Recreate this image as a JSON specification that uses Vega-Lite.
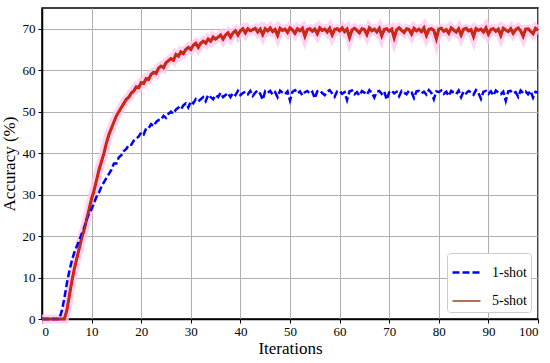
{
  "$schema": "https://vega.github.io/schema/vega-lite/v6.json",
  "width": 496,
  "height": 311,
  "autosize": "none",
  "padding": {"left": 42, "top": 8, "right": 12, "bottom": 44},
  "background": "white",
  "config": {
    "font": "Liberation Serif",
    "view": {"stroke": "black", "strokeWidth": 1.5},
    "axis": {
      "labelColor": "black", "titleColor": "black", "titleFontWeight": "normal",
      "tickColor": "black", "domainColor": "black", "domainWidth": 1.5, "tickSize": 4,
      "gridColor": "#b0b0b0", "gridWidth": 1, "gridOpacity": 1
    },
    "legend": {"labelColor": "black"}
  },
  "data": {"values": [
    {"i":0,"1-shot":0,"5-shot":0},{"i":0.5,"1-shot":0,"5-shot":0},{"i":1,"1-shot":0,"5-shot":0},{"i":1.5,"1-shot":0,"5-shot":0},
    {"i":2,"1-shot":0,"5-shot":0},{"i":2.5,"1-shot":0,"5-shot":0},{"i":3,"1-shot":0,"5-shot":0},{"i":3.5,"1-shot":0,"5-shot":0},
    {"i":4,"1-shot":2,"5-shot":0},{"i":4.5,"1-shot":5,"5-shot":0},{"i":5,"1-shot":8.5,"5-shot":2},{"i":5.5,"1-shot":11.5,"5-shot":5.5},
    {"i":6,"1-shot":14,"5-shot":9},{"i":6.5,"1-shot":16,"5-shot":12},{"i":7,"1-shot":17.5,"5-shot":14.5},{"i":7.5,"1-shot":19,"5-shot":17},
    {"i":8,"1-shot":20.5,"5-shot":19.5},{"i":8.5,"1-shot":22,"5-shot":21.5},{"i":9,"1-shot":24,"5-shot":24},{"i":9.5,"1-shot":25.5,"5-shot":26.5},
    {"i":10,"1-shot":26.5,"5-shot":29},{"i":10.5,"1-shot":28,"5-shot":31},{"i":11,"1-shot":29.5,"5-shot":33.5},{"i":11.5,"1-shot":30.5,"5-shot":36},
    {"i":12,"1-shot":32,"5-shot":38},{"i":12.5,"1-shot":33,"5-shot":40},{"i":13,"1-shot":34,"5-shot":42.5},{"i":13.5,"1-shot":35,"5-shot":44.5},
    {"i":14,"1-shot":36,"5-shot":46},{"i":14.5,"1-shot":37.5,"5-shot":47.5},{"i":15,"1-shot":37.5,"5-shot":49},{"i":15.5,"1-shot":39,"5-shot":50},
    {"i":16,"1-shot":39.5,"5-shot":51},{"i":16.5,"1-shot":40.5,"5-shot":52},{"i":17,"1-shot":41,"5-shot":53},{"i":17.5,"1-shot":42,"5-shot":53.5},
    {"i":18,"1-shot":42,"5-shot":54.5},{"i":18.5,"1-shot":43,"5-shot":55},{"i":19,"1-shot":43.5,"5-shot":56},{"i":19.5,"1-shot":44,"5-shot":55.8},
    {"i":20,"1-shot":45,"5-shot":57},{"i":20.5,"1-shot":44.5,"5-shot":56.8},{"i":21,"1-shot":46,"5-shot":58},{"i":21.5,"1-shot":46,"5-shot":57.8},
    {"i":22,"1-shot":47,"5-shot":59},{"i":22.5,"1-shot":46.5,"5-shot":59.5},{"i":23,"1-shot":47.5,"5-shot":59.2},{"i":23.5,"1-shot":48,"5-shot":60.5},
    {"i":24,"1-shot":48,"5-shot":61},{"i":24.5,"1-shot":49,"5-shot":60.6},{"i":25,"1-shot":48.5,"5-shot":61.8},{"i":25.5,"1-shot":49.5,"5-shot":62.3},
    {"i":26,"1-shot":50,"5-shot":62.8},{"i":26.5,"1-shot":49.5,"5-shot":62.4},{"i":27,"1-shot":50.5,"5-shot":63.8},{"i":27.5,"1-shot":51,"5-shot":63.4},
    {"i":28,"1-shot":50.5,"5-shot":64.4},{"i":28.5,"1-shot":51.5,"5-shot":64},{"i":29,"1-shot":52,"5-shot":65},{"i":29.5,"1-shot":51,"5-shot":65.5},
    {"i":30,"1-shot":52.5,"5-shot":65},{"i":30.5,"1-shot":52,"5-shot":66},{"i":31,"1-shot":53,"5-shot":66.5},{"i":31.5,"1-shot":52.5,"5-shot":65.5},
    {"i":32,"1-shot":53,"5-shot":66.5},{"i":32.5,"1-shot":53.5,"5-shot":67},{"i":33,"1-shot":52.5,"5-shot":66.5},{"i":33.5,"1-shot":54,"5-shot":67.5},
    {"i":34,"1-shot":53.5,"5-shot":67},{"i":34.5,"1-shot":53,"5-shot":68},{"i":35,"1-shot":54,"5-shot":67.5},{"i":35.5,"1-shot":53.5,"5-shot":68},
    {"i":36,"1-shot":54.5,"5-shot":68.5},{"i":36.5,"1-shot":53.5,"5-shot":67.5},{"i":37,"1-shot":54,"5-shot":68.5},{"i":37.5,"1-shot":54.5,"5-shot":69},
    {"i":38,"1-shot":53.5,"5-shot":68},{"i":38.5,"1-shot":54.5,"5-shot":69},{"i":39,"1-shot":54,"5-shot":69.5},{"i":39.5,"1-shot":55,"5-shot":68.5},
    {"i":40,"1-shot":54,"5-shot":69.5},{"i":40.5,"1-shot":54.5,"5-shot":70},{"i":41,"1-shot":54.8,"5-shot":69},{"i":41.5,"1-shot":54.2,"5-shot":70},
    {"i":42,"1-shot":55.0,"5-shot":69.5},{"i":42.5,"1-shot":53.8,"5-shot":69.8},{"i":43,"1-shot":54.6,"5-shot":70.1},{"i":43.5,"1-shot":55.1,"5-shot":69.2},
    {"i":44,"1-shot":54.3,"5-shot":69.9},{"i":44.5,"1-shot":52.9,"5-shot":68.6},{"i":45,"1-shot":54.9,"5-shot":70.0},{"i":45.5,"1-shot":54.5,"5-shot":69.5},
    {"i":46,"1-shot":55.0,"5-shot":70.2},{"i":46.5,"1-shot":54.1,"5-shot":69.3},{"i":47,"1-shot":54.7,"5-shot":69.8},{"i":47.5,"1-shot":53.5,"5-shot":68.4},
    {"i":48,"1-shot":55.1,"5-shot":70.1},{"i":48.5,"1-shot":54.6,"5-shot":69.6},{"i":49,"1-shot":54.2,"5-shot":69.9},{"i":49.5,"1-shot":54.9,"5-shot":69.1},
    {"i":50,"1-shot":52.7,"5-shot":70.2},{"i":50.5,"1-shot":54.8,"5-shot":69.7},{"i":51,"1-shot":55.2,"5-shot":68.9},{"i":51.5,"1-shot":54.4,"5-shot":70.0},
    {"i":52,"1-shot":54.9,"5-shot":69.5},{"i":52.5,"1-shot":53.9,"5-shot":70.1},{"i":53,"1-shot":54.7,"5-shot":68.2},{"i":53.5,"1-shot":55.0,"5-shot":69.8},
    {"i":54,"1-shot":54.3,"5-shot":70.0},{"i":54.5,"1-shot":54.8,"5-shot":69.4},{"i":55,"1-shot":53.2,"5-shot":69.9},{"i":55.5,"1-shot":54.9,"5-shot":68.8},
    {"i":56,"1-shot":55.1,"5-shot":70.2},{"i":56.5,"1-shot":54.5,"5-shot":69.6},{"i":57,"1-shot":54.0,"5-shot":69.9},{"i":57.5,"1-shot":54.8,"5-shot":69.2},
    {"i":58,"1-shot":55.2,"5-shot":70.1},{"i":58.5,"1-shot":54.4,"5-shot":68.5},{"i":59,"1-shot":53.6,"5-shot":69.8},{"i":59.5,"1-shot":54.9,"5-shot":70.0},
    {"i":60,"1-shot":55.0,"5-shot":69.5},{"i":60.5,"1-shot":54.3,"5-shot":70.2},{"i":61,"1-shot":54.7,"5-shot":69.3},{"i":61.5,"1-shot":52.8,"5-shot":69.9},
    {"i":62,"1-shot":54.9,"5-shot":67.9},{"i":62.5,"1-shot":55.1,"5-shot":69.7},{"i":63,"1-shot":54.2,"5-shot":70.1},{"i":63.5,"1-shot":54.7,"5-shot":69.6},
    {"i":64,"1-shot":53.9,"5-shot":69.0},{"i":64.5,"1-shot":55.0,"5-shot":70.0},{"i":65,"1-shot":54.6,"5-shot":69.8},{"i":65.5,"1-shot":54.1,"5-shot":68.6},
    {"i":66,"1-shot":55.2,"5-shot":70.2},{"i":66.5,"1-shot":54.5,"5-shot":69.5},{"i":67,"1-shot":53.4,"5-shot":69.9},{"i":67.5,"1-shot":54.8,"5-shot":69.2},
    {"i":68,"1-shot":55.0,"5-shot":70.1},{"i":68.5,"1-shot":54.3,"5-shot":68.3},{"i":69,"1-shot":54.9,"5-shot":69.8},{"i":69.5,"1-shot":52.9,"5-shot":70.0},
    {"i":70,"1-shot":54.7,"5-shot":69.4},{"i":70.5,"1-shot":55.1,"5-shot":69.9},{"i":71,"1-shot":54.4,"5-shot":67.8},{"i":71.5,"1-shot":54.8,"5-shot":69.7},
    {"i":72,"1-shot":53.7,"5-shot":70.2},{"i":72.5,"1-shot":55.0,"5-shot":69.6},{"i":73,"1-shot":54.6,"5-shot":69.1},{"i":73.5,"1-shot":54.2,"5-shot":70.0},
    {"i":74,"1-shot":55.1,"5-shot":69.8},{"i":74.5,"1-shot":54.7,"5-shot":68.7},{"i":75,"1-shot":53.3,"5-shot":70.1},{"i":75.5,"1-shot":54.9,"5-shot":69.5},
    {"i":76,"1-shot":55.0,"5-shot":69.9},{"i":76.5,"1-shot":54.4,"5-shot":69.3},{"i":77,"1-shot":54.8,"5-shot":70.2},{"i":77.5,"1-shot":54.1,"5-shot":68.4},
    {"i":78,"1-shot":55.2,"5-shot":69.8},{"i":78.5,"1-shot":54.5,"5-shot":70.0},{"i":79,"1-shot":53.0,"5-shot":69.6},{"i":79.5,"1-shot":54.9,"5-shot":67.6},
    {"i":80,"1-shot":54.7,"5-shot":69.9},{"i":80.5,"1-shot":55.1,"5-shot":70.1},{"i":81,"1-shot":54.3,"5-shot":69.4},{"i":81.5,"1-shot":54.8,"5-shot":69.8},
    {"i":82,"1-shot":53.8,"5-shot":68.9},{"i":82.5,"1-shot":55.0,"5-shot":70.2},{"i":83,"1-shot":54.6,"5-shot":69.7},{"i":83.5,"1-shot":54.2,"5-shot":69.2},
    {"i":84,"1-shot":55.1,"5-shot":70.0},{"i":84.5,"1-shot":53.5,"5-shot":68.5},{"i":85,"1-shot":54.9,"5-shot":69.9},{"i":85.5,"1-shot":54.4,"5-shot":70.1},
    {"i":86,"1-shot":55.0,"5-shot":69.5},{"i":86.5,"1-shot":54.7,"5-shot":69.8},{"i":87,"1-shot":54.1,"5-shot":68.1},{"i":87.5,"1-shot":55.2,"5-shot":70.0},
    {"i":88,"1-shot":54.5,"5-shot":69.6},{"i":88.5,"1-shot":53.1,"5-shot":69.9},{"i":89,"1-shot":54.8,"5-shot":69.2},{"i":89.5,"1-shot":55.0,"5-shot":70.2},
    {"i":90,"1-shot":54.3,"5-shot":68.7},{"i":90.5,"1-shot":54.9,"5-shot":69.8},{"i":91,"1-shot":53.9,"5-shot":70.0},{"i":91.5,"1-shot":55.1,"5-shot":69.4},
    {"i":92,"1-shot":54.6,"5-shot":69.9},{"i":92.5,"1-shot":54.2,"5-shot":68.4},{"i":93,"1-shot":54.8,"5-shot":70.1},{"i":93.5,"1-shot":52.6,"5-shot":69.7},
    {"i":94,"1-shot":54.9,"5-shot":69.3},{"i":94.5,"1-shot":55.0,"5-shot":70.0},{"i":95,"1-shot":54.4,"5-shot":68.9},{"i":95.5,"1-shot":54.7,"5-shot":69.8},
    {"i":96,"1-shot":53.6,"5-shot":70.2},{"i":96.5,"1-shot":55.1,"5-shot":69.5},{"i":97,"1-shot":54.5,"5-shot":68.2},{"i":97.5,"1-shot":54.9,"5-shot":69.9},
    {"i":98,"1-shot":54.2,"5-shot":70.0},{"i":98.5,"1-shot":55.0,"5-shot":69.4},{"i":99,"1-shot":53.4,"5-shot":68.8},{"i":99.5,"1-shot":54.8,"5-shot":70.1},
    {"i":100,"1-shot":54.6,"5-shot":69.6}
  ]},
  "transform": [{"fold": ["1-shot", "5-shot"], "as": ["series", "acc"]}],
  "encoding": {
    "x": {"field": "i", "type": "quantitative", "title": "Iterations",
          "scale": {"domain": [0, 100], "nice": false},
          "axis": {"values": [0,10,20,30,40,50,60,70,80,90,100], "titlePadding": 2, "labelPadding": 2,
                   "labelFont": "Liberation Serif", "labelFontSize": 13, "titleFont": "Liberation Serif", "titleFontSize": 17}},
    "y": {"field": "acc", "type": "quantitative", "title": "Accuracy (%)",
          "scale": {"domain": [0, 75], "nice": false},
          "axis": {"values": [0,10,20,30,40,50,60,70], "titlePadding": 4, "labelPadding": 3,
                   "labelFont": "Liberation Serif", "labelFontSize": 13, "titleFont": "Liberation Serif", "titleFontSize": 17}}
  },
  "layer": [
    {"transform": [{"filter": "datum.series === '5-shot'"}],
     "mark": {"type": "line", "color": "#ffc8f0", "strokeWidth": 9, "opacity": 0.8}},
    {"transform": [{"filter": "datum.series === '5-shot'"}],
     "mark": {"type": "line", "color": "#ff0000", "strokeWidth": 3}},
    {"mark": {"type": "line"},
     "encoding": {
       "color": {"field": "series", "type": "nominal",
                 "scale": {"domain": ["1-shot", "5-shot"], "range": ["#0000ff", "#a0401c"]},
                 "legend": {"title": null, "orient": "bottom-right", "offset": 7,
                            "fillColor": "white", "strokeColor": "#cccccc", "cornerRadius": 3,
                            "padding": 4, "symbolType": "stroke", "symbolSize": 784,
                            "symbolStrokeWidth": 2.5, "rowPadding": 6, "labelOffset": 10,
                            "labelFont": "Liberation Serif", "labelFontSize": 14}},
       "strokeDash": {"field": "series", "type": "nominal",
                      "scale": {"domain": ["1-shot", "5-shot"], "range": [[7, 3], [1, 0]]},
                      "legend": {"title": null, "orient": "bottom-right", "offset": 7,
                            "fillColor": "white", "strokeColor": "#cccccc", "cornerRadius": 3,
                            "padding": 4, "symbolType": "stroke", "symbolSize": 784,
                            "symbolStrokeWidth": 2.5, "rowPadding": 6, "labelOffset": 10,
                            "labelFont": "Liberation Serif", "labelFontSize": 14}},
       "strokeWidth": {"field": "series", "type": "nominal",
                       "scale": {"domain": ["1-shot", "5-shot"], "range": [2.5, 1.6]},
                       "legend": null}
     }}
  ]
}
